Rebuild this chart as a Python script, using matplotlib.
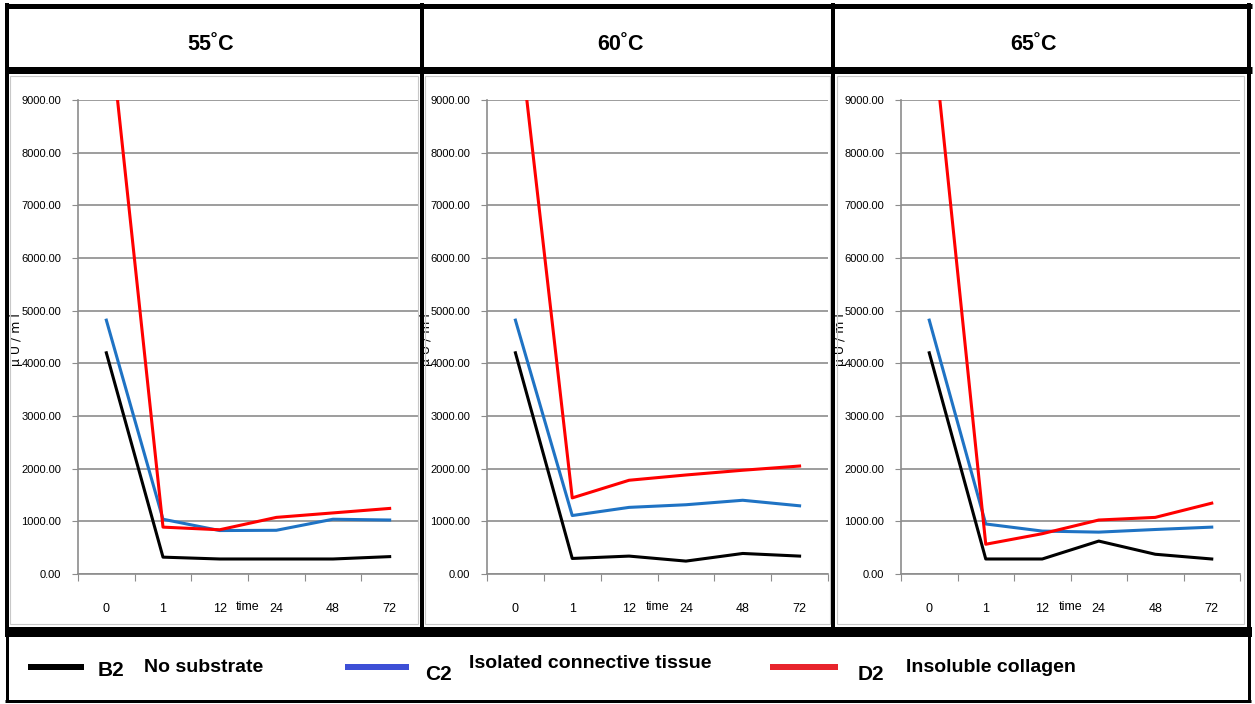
import numpy as np
import matplotlib
matplotlib.use('Agg')
import matplotlib.pyplot as plt
from matplotlib.lines import Line2D
from matplotlib.patches import Rectangle
from matplotlib.ticker import FormatStrFormatter

plt.rcParams['font.family'] = ['Liberation Sans', 'DejaVu Sans']

W, H = 1255, 704  # taille en pixels

# categories de l'axe x (heures)
times = ['0', '1', '12', '24', '48', '72']
temps = ['55˚C', '60˚C', '65˚C']

# B2 : sans substrat
b2_55 = [4200, 320, 285, 285, 285, 330]
b2_60 = [4200, 295, 340, 245, 390, 340]
b2_65 = [4200, 285, 285, 625, 375, 285]
# C2 : tissu conjonctif isole
c2_55 = [4820, 1040, 825, 830, 1040, 1025]
c2_60 = [4820, 1110, 1265, 1315, 1400, 1295]
c2_65 = [4820, 950, 815, 795, 845, 890]
# D2 : collagene insoluble
d2_55 = [11000, 890, 840, 1075, 1160, 1245]
d2_60 = [10900, 1445, 1780, 1880, 1970, 2050]
d2_65 = [10950, 565, 765, 1025, 1075, 1345]

series_names = ['B2', 'C2', 'D2']
series_labels = ['No substrate', 'Isolated connective tissue', 'Insoluble collagen']
line_colors = ['#000000', '#1f73c4', '#ff0000']
legend_colors = ['#000000', '#3d4fd6', '#e8242c']

panels = [(b2_55, c2_55, d2_55), (b2_60, c2_60, d2_60), (b2_65, c2_65, d2_65)]
ax_x = [(78, 418), (487, 828), (901, 1240)]  # bords gauche/droite des axes en px
ylab_off = [55, 53.5, 54]  # decalage du titre y en px
ax_top, ax_bot = 100, 574

fig = plt.figure(figsize=(W / 100, H / 100), dpi=100)
fig.patch.set_facecolor('white')

fx = lambda x: x / W
fy = lambda y: 1 - y / H

def hline(y, x0, x1, px, color='k'):
    fig.add_artist(Line2D([fx(x0), fx(x1)], [fy(y), fy(y)], lw=px * 0.72, color=color,
                          solid_capstyle='butt'))

def vline(x, y0, y1, px, color='k'):
    fig.add_artist(Line2D([fx(x), fx(x)], [fy(y0), fy(y1)], lw=px * 0.72, color=color,
                          solid_capstyle='butt'))

# cadres gris des graphiques
for (a, b) in [(10, 418), (425, 830), (837, 1244)]:
    fig.add_artist(Rectangle((fx(a), fy(624)), (b - a) / W, (624 - 76) / H, fill=False,
                             ec='#c8c8c8', lw=0.8))

grey = '#8c8c8c'
for i, (series, (x0, x1)) in enumerate(zip(panels, ax_x)):
    ax = fig.add_axes([fx(x0), fy(ax_bot), (x1 - x0) / W, (ax_bot - ax_top) / H])
    for vals, col in zip(series, line_colors):
        ax.plot(range(len(times)), vals, color=col, lw=2.2)
    ax.set_xlim(-0.5, len(times) - 0.5)
    ax.set_ylim(0, 9000)
    ax.set_yticks(np.arange(0, 9001, 1000))
    ax.yaxis.set_major_formatter(FormatStrFormatter('%.2f'))
    ax.set_axisbelow(True)
    ax.yaxis.grid(True, color=grey, lw=1.2)
    for s in ['top', 'right']:
        ax.spines[s].set_visible(False)
    for s in ['left', 'bottom']:
        ax.spines[s].set_color(grey)
        ax.spines[s].set_linewidth(1.2)
    ax.set_xticks(np.arange(-0.5, len(times), 1))
    ax.set_xticks(range(len(times)), labels=times, minor=True)
    ax.tick_params(axis='x', which='major', length=5, color=grey, labelbottom=False)
    ax.tick_params(axis='x', which='minor', length=0, pad=21, labelsize=9)
    ax.tick_params(axis='y', length=4, color=grey, pad=8, labelsize=8)
    ax.text(2.5, -0.07, 'time', transform=ax.get_xaxis_transform(), ha='center', va='center',
            fontsize=9)
    ax.set_ylabel('µ U / m l', family='DejaVu Sans', fontsize=9)
    ax.yaxis.set_label_coords(-ylab_off[i] / (x1 - x0), (ax_bot - 340) / (ax_bot - ax_top))
    # en-tete
    fig.text(fx((x0 + x1) / 2 - 37), fy(44), temps[i], ha='center', va='center',
             fontsize=15.5, fontweight='bold')

# bordures du tableau
hline(5.5, 5, 1252, 5)
hline(69.5, 5, 1252, 7)
hline(631.5, 5, 1252, 10)
vline(7, 3, 636, 4)
vline(1249, 3, 636, 4)
vline(421.5, 3, 630, 4)
vline(833, 3, 630, 4)
vline(7, 630, 702, 3)
vline(1249, 630, 702, 3)
hline(700.5, 5, 1251, 3)

# legende
leg_line = [(28, 84), (345, 409), (770, 838)]
leg_name = [98, 425, 858]
leg_text = [144, 469, 906]
name_y = [670, 675, 675]
text_y = [667, 664, 667]
for k in range(3):
    a, b = leg_line[k]
    hline(667, a, b, 6, legend_colors[k])
    fig.text(fx(leg_name[k]), fy(name_y[k]), series_names[k], ha='left', va='center',
             fontsize=15, fontweight='bold')
    fig.text(fx(leg_text[k]), fy(text_y[k]), series_labels[k], ha='left', va='center',
             fontsize=14, fontweight='bold')

fig.savefig('out.png', dpi=100)
